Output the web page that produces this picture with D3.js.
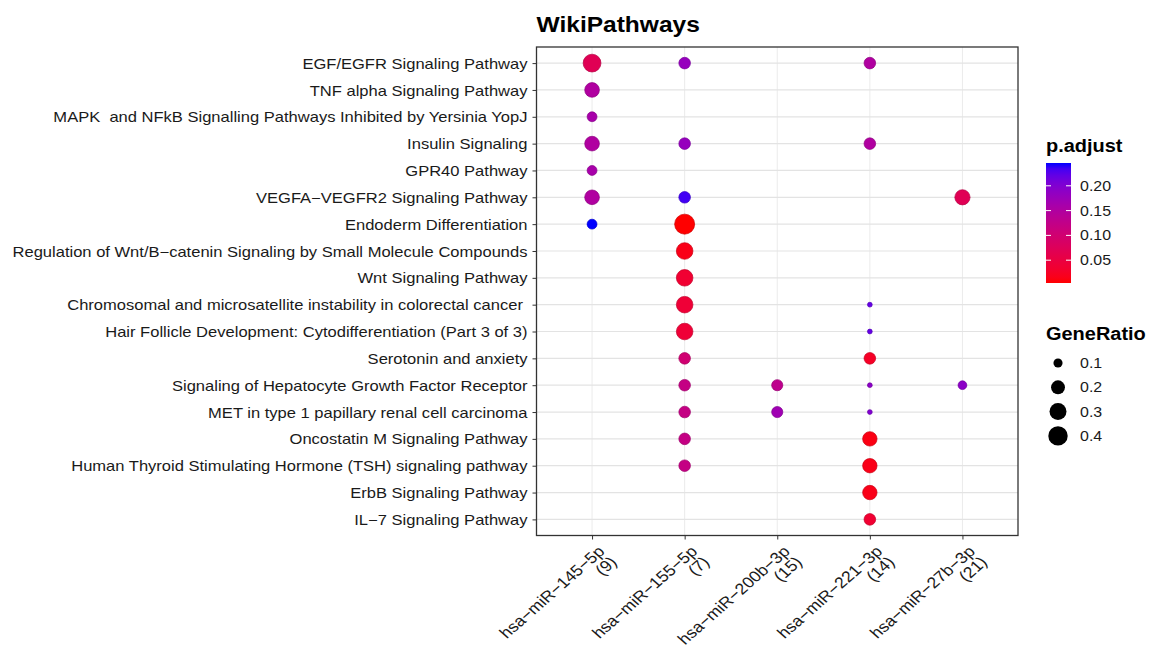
<!DOCTYPE html>
<html>
<head>
<meta charset="utf-8">
<script src="https://cdn.jsdelivr.net/npm/d3@7"></script>
<style>
  body { margin: 0; background: #fff; }
  svg text { font-family: "Liberation Sans", Arial, Helvetica, sans-serif; white-space: pre; }
</style>
</head>
<body>
<svg id="chart" width="1149" height="648"></svg>
<script>
// WikiPathways enrichment dot plot

const pathways = [
  "EGF/EGFR Signaling Pathway",
  "TNF alpha Signaling Pathway",
  "MAPK  and NFkB Signalling Pathways Inhibited by Yersinia YopJ",
  "Insulin Signaling",
  "GPR40 Pathway",
  "VEGFA\u2212VEGFR2 Signaling Pathway",
  "Endoderm Differentiation",
  "Regulation of Wnt/B\u2212catenin Signaling by Small Molecule Compounds",
  "Wnt Signaling Pathway",
  "Chromosomal and microsatellite instability in colorectal cancer ",
  "Hair Follicle Development: Cytodifferentiation (Part 3 of 3)",
  "Serotonin and anxiety",
  "Signaling of Hepatocyte Growth Factor Receptor",
  "MET in type 1 papillary renal cell carcinoma",
  "Oncostatin M Signaling Pathway",
  "Human Thyroid Stimulating Hormone (TSH) signaling pathway",
  "ErbB Signaling Pathway",
  "IL\u22127 Signaling Pathway"
];

const mirnas = ["hsa\u2212miR\u2212145\u22125p", "hsa\u2212miR\u2212155\u22125p", "hsa\u2212miR\u2212200b\u22123p",
  "hsa\u2212miR\u2212221\u22123p", "hsa\u2212miR\u221227b\u22123p"];
const mirnaTotals = [9, 7, 15, 14, 21];

// gene counts per pathway (rows) and miRNA (columns), null = not enriched
const geneCounts = [
  [3, 1, null, 2, null],
  [2, null, null, null, null],
  [1, null, null, null, null],
  [2, 1, null, 2, null],
  [1, null, null, null, null],
  [2, 1, null, null, 5],
  [1, 3, null, null, null],
  [null, 2, null, null, null],
  [null, 2, null, null, null],
  [null, 2, null, 1, null],
  [null, 2, null, 1, null],
  [null, 1, null, 2, null],
  [null, 1, 2, 1, 2],
  [null, 1, 2, 1, null],
  [null, 1, null, 3, null],
  [null, 1, null, 3, null],
  [null, null, null, 3, null],
  [null, null, null, 2, null]
];

// adjusted p-values, same layout
const pAdjust = [
  [0.07, 0.18, null, 0.15, null],
  [0.15, null, null, null, null],
  [0.16, null, null, null, null],
  [0.15, 0.18, null, 0.15, null],
  [0.16, null, null, null, null],
  [0.15, 0.235, null, null, 0.07],
  [0.246, 0.004, null, null, null],
  [null, 0.015, null, null, null],
  [null, 0.035, null, null, null],
  [null, 0.04, null, 0.22, null],
  [null, 0.04, null, 0.22, null],
  [null, 0.10, null, 0.025, null],
  [null, 0.12, 0.13, 0.19, 0.19],
  [null, 0.12, 0.17, 0.20, null],
  [null, 0.12, null, 0.012, null],
  [null, 0.12, null, 0.015, null],
  [null, null, null, 0.015, null],
  [null, null, null, 0.035, null]
];

const padjTicks = [0.05, 0.10, 0.15, 0.20];
const ratioTicks = [0.1, 0.2, 0.3, 0.4];

// the original picture is a bit wider than tall, text looks stretched
const STRETCH = 1.14;
function stretch(sel, k) {
  sel.each(function () {
    const len = this.getComputedTextLength();
    d3.select(this).attr("textLength", len * k).attr("lengthAdjust", "spacingAndGlyphs");
  });
}

// flatten into points
const points = [];
geneCounts.forEach((row, i) => row.forEach((c, j) => {
  if (c != null) points.push({
    pathway: pathways[i], mirna: j, ratio: c / mirnaTotals[j], padj: pAdjust[i][j]
  });
}));

const svg = d3.select("#chart");
const panel = { left: 536.5, right: 1018, top: 47, bottom: 535.5 };

const x = d3.scalePoint().domain(d3.range(mirnas.length))
  .range([panel.left, panel.right]).padding(0.6);
const y = d3.scalePoint().domain(pathways)
  .range([panel.top, panel.bottom]).padding(0.6);

const padjExtent = d3.extent(points, d => d.padj);
const color = d3.scaleLinear().domain(padjExtent).range(["red", "blue"])
  .interpolate(d3.interpolateLab);

const ratioExtent = d3.extent(points, d => d.ratio);
const ratioNorm = d3.scaleLinear().domain(ratioExtent).range([0, 1]);
const radius = d3.scaleLinear().domain([0, 1]).range([2.4, 10]);
const r = v => radius(Math.sqrt(Math.max(0, ratioNorm(v))));

// grid
const grid = svg.append("g");
grid.selectAll(".gx").data(x.domain()).join("line")
  .attr("x1", d => x(d)).attr("x2", d => x(d))
  .attr("y1", panel.top).attr("y2", panel.bottom)
  .attr("stroke", "#ebebeb").attr("stroke-width", 1);
grid.selectAll(".gy").data(pathways).join("line")
  .attr("y1", d => y(d)).attr("y2", d => y(d))
  .attr("x1", panel.left).attr("x2", panel.right)
  .attr("stroke", "#e3e3e3").attr("stroke-width", 1.2);

// dots
svg.append("g").selectAll("circle")
  .data(points.slice().sort((a, b) => b.ratio - a.ratio))
  .join("circle")
  .attr("cx", d => x(d.mirna))
  .attr("cy", d => y(d.pathway))
  .attr("r", d => r(d.ratio))
  .attr("fill", d => color(d.padj))
  .attr("stroke", d => d3.color(color(d.padj)).darker(0.6))
  .attr("stroke-width", 0.7);

// panel border
svg.append("rect")
  .attr("x", panel.left).attr("y", panel.top)
  .attr("width", panel.right - panel.left).attr("height", panel.bottom - panel.top)
  .attr("fill", "none").attr("stroke", "#333").attr("stroke-width", 1.3);

// y axis
const yAxis = svg.append("g")
  .attr("transform", `translate(${panel.left},0)`)
  .call(d3.axisLeft(y).tickSize(4).tickPadding(5));
yAxis.select(".domain").remove();
yAxis.selectAll(".tick line").attr("stroke", "#333");
yAxis.selectAll(".tick text").attr("fill", "#1a1a1a")
  .style("font-size", "14.5px").attr("dy", "0.35em")
  .call(stretch, STRETCH);

// x axis
const xAxis = svg.append("g")
  .attr("transform", `translate(0,${panel.bottom})`)
  .call(d3.axisBottom(x).tickSize(4).tickFormat(""));
xAxis.select(".domain").remove();
xAxis.selectAll(".tick line").attr("stroke", "#333");

const xLab = svg.append("g").selectAll("g").data(x.domain()).join("g")
  .attr("transform", d => `translate(${x(d)},${panel.bottom + 5}) scale(${STRETCH},1) rotate(-45)`);
xLab.append("text")
  .attr("text-anchor", "end").attr("y", 17)
  .style("font-size", "15.5px").attr("fill", "#1a1a1a")
  .text(d => mirnas[d]);
xLab.append("text")
  .attr("text-anchor", "end").attr("y", 32)
  .style("font-size", "15.5px").attr("fill", "#1a1a1a")
  .text(d => `(${mirnaTotals[d]})`);

// title
svg.append("text")
  .attr("x", panel.left).attr("y", 32)
  .style("font-size", "22.5px").style("font-weight", "bold")
  .text("WikiPathways")
  .call(stretch, 1.09);

// colour legend
const cbar = { x: 1046, y: 163, w: 25, h: 120 };
const cScale = d3.scaleLinear().domain(padjExtent).range([cbar.y + cbar.h, cbar.y]);

svg.append("text")
  .attr("x", cbar.x).attr("y", 152)
  .style("font-size", "17.5px").style("font-weight", "bold")
  .text("p.adjust")
  .call(stretch, STRETCH);

const defs = svg.append("defs");
const grad = defs.append("linearGradient").attr("id", "padj-grad")
  .attr("x1", 0).attr("y1", 1).attr("x2", 0).attr("y2", 0);
grad.selectAll("stop").data(d3.range(0, 1.001, 0.05)).join("stop")
  .attr("offset", d => d)
  .attr("stop-color", d => color(padjExtent[0] + d * (padjExtent[1] - padjExtent[0])));

svg.append("rect")
  .attr("x", cbar.x).attr("y", cbar.y).attr("width", cbar.w).attr("height", cbar.h)
  .attr("fill", "url(#padj-grad)");

const cTicks = svg.append("g").selectAll("g").data(padjTicks).join("g");
cTicks.append("line")
  .attr("x1", cbar.x).attr("x2", cbar.x + 5)
  .attr("y1", d => cScale(d)).attr("y2", d => cScale(d))
  .attr("stroke", "#fff").attr("stroke-width", 1);
cTicks.append("line")
  .attr("x1", cbar.x + cbar.w - 5).attr("x2", cbar.x + cbar.w)
  .attr("y1", d => cScale(d)).attr("y2", d => cScale(d))
  .attr("stroke", "#fff").attr("stroke-width", 1);
cTicks.append("text")
  .attr("x", 1080).attr("y", d => cScale(d)).attr("dy", "0.35em")
  .style("font-size", "14px").attr("fill", "#1a1a1a")
  .text(d => d.toFixed(2))
  .call(stretch, STRETCH);

// size legend
svg.append("text")
  .attr("x", cbar.x).attr("y", 340)
  .style("font-size", "17.5px").style("font-weight", "bold")
  .text("GeneRatio")
  .call(stretch, STRETCH);

const sItems = svg.append("g").selectAll("g").data(ratioTicks).join("g")
  .attr("transform", (d, i) => `translate(1058,${363 + i * 24.3})`);
sItems.append("circle").attr("r", d => r(d)).attr("fill", "#000");
sItems.append("text")
  .attr("x", 22).attr("dy", "0.35em")
  .style("font-size", "14px").attr("fill", "#1a1a1a")
  .text(d => d.toFixed(1))
  .call(stretch, STRETCH);
</script>
</body>
</html>
